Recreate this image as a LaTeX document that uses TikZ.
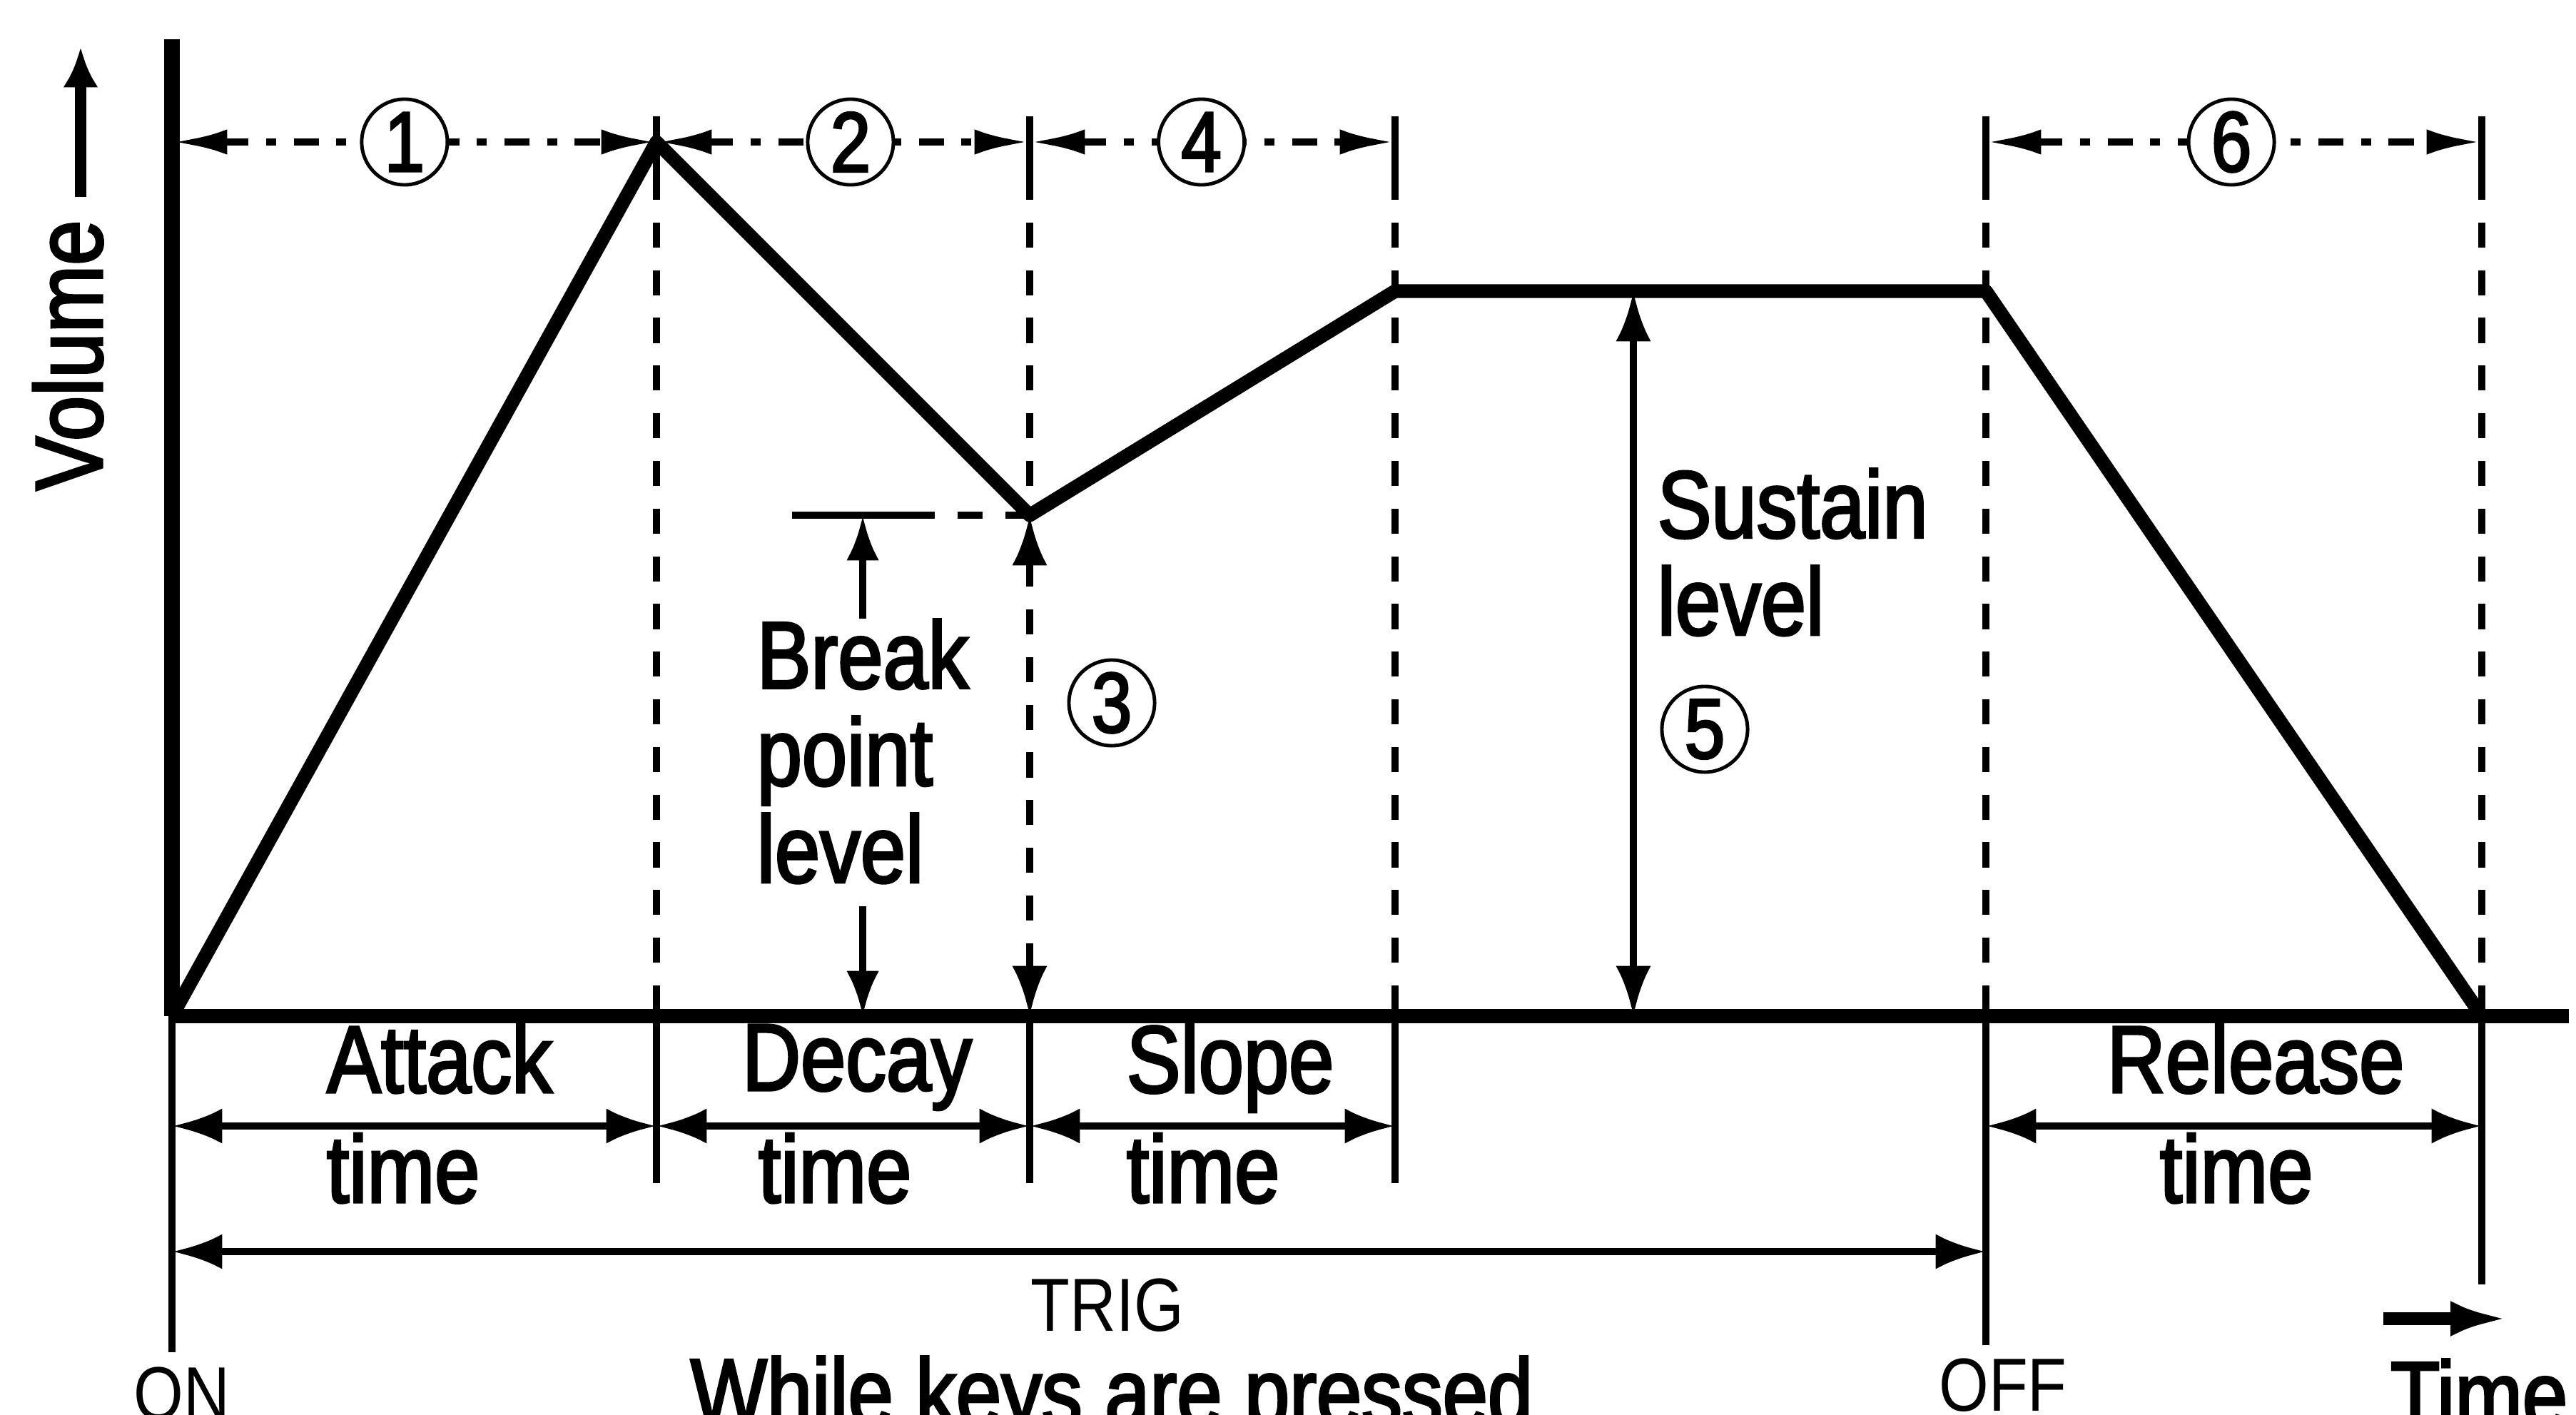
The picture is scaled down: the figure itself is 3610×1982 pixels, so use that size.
\documentclass[tikz,border=0pt]{standalone}
\usepackage{fontspec}
\setmainfont{Liberation Sans}[FakeStretch=0.85, FakeBold=2.5]
\newfontfamily\lightfont{Liberation Sans}[FakeStretch=0.85]
\usepackage{tikz}
\usetikzlibrary{arrows.meta, positioning}
\tikzset{
  envline/.style={line width=5.5pt, line join=round},
  thinline/.style={line width=3pt},
  guideline/.style={thinline, dash pattern=on 10pt off 9pt},
  topline/.style={thinline, dash pattern=on 10pt off 7pt on 4pt off 7pt},
  dimarrow/.style={thinline, {Latex[length=20pt,width=14pt]}-{Latex[length=20pt,width=14pt]}},
  topdim/.style={topline, {Latex[length=22pt,width=10pt]}-{Latex[length=22pt,width=10pt]}},
  levelarrow/.style={thinline, -{Latex[length=18pt,width=13pt]}},
  numcirc/.style={circle, draw, solid, line width=1.4pt, fill=white, minimum size=1.2cm,
    inner sep=0pt, font=\fontsize{34}{34}\selectfont},
  lbl/.style={font=\fontsize{38}{38.7}\selectfont, inner sep=0pt},
  smalllbl/.style={font=\lightfont\fontsize{30}{30}\selectfont, inner sep=0pt},
}

\begin{document}
\begin{tikzpicture}[x=0.01cm, y=-0.01cm, >={Latex[length=20pt,width=14pt]}]
  \useasboundingbox (0,0) rectangle (3610,1982);
  \fill[white] (0,0) rectangle (3610,1982);
  \coordinate (on) at (241,1424);
  \coordinate (pk) at (920,199);
  \coordinate (bp) at (1443,722);
  \coordinate (se) at (1955,408);
  \coordinate (rs) at (2783,408);
  \coordinate (rz) at (3478,1424);
  \coordinate (axtop) at (241,55);
  \coordinate (axbot) at (241,1895);
  \coordinate (tlend) at (3600,1424);

  % guides
  \foreach \gx/\gb in {920/1658, 1443/1658, 1955/1658, 2783/1885, 3478/1800}{
    \draw[thinline] (\gx,163) -- (\gx,245);
    \draw[thinline] (\gx,1424) -- (\gx,\gb);
  }
  \foreach \gx in {920, 1955, 2783, 3478}
    \draw[guideline] (\gx,245) -- (\gx,1424);
  \draw[guideline] (1443,245) -- (bp);
  \draw[guideline, <->] (bp) -- (bp |- on);

  \draw[topdim] (axtop |- pk) -- (pk) node[numcirc, pos=0.48] (n1) {1};
  \draw[topdim] (pk) -- (pk -| bp) node[numcirc, pos=0.52] (n2) {2};
  \draw[topdim] (pk -| bp) -- (pk -| se) node[numcirc, pos=0.47] (n4) {4};
  \draw[topdim] (pk -| rs) -- (pk -| rz) node[numcirc, pos=0.495] (n6) {6};

  % envelope
  \draw[line width=6pt] (axtop) -- (on);
  \draw[thinline] (on) -- (axbot);
  \draw[envline] (on) -- (tlend);
  \draw[envline] (on) -- (pk) -- (bp) -- (se) -- (rs) -- (rz);

  \node[lbl, rotate=90, anchor=base] (vol) at (143,498) {Volume};
  \draw[line width=4.8pt, -{Latex[length=16pt,width=14pt]}] (113,276) -- (113,66);

  % break point level
  \coordinate (bl) at (1110,722);
  \draw[thinline] (bl) -- ++(165,0) coordinate (bm);
  \draw[guideline] (bm) -- (bp);
  \node[lbl, anchor=north west, align=left] (brk) at (1060,867) {Break\\point\\level};
  \draw[levelarrow] (brk.north) -- (brk.north |- bl);
  \draw[levelarrow] ([yshift=-9pt]brk.south) -- (brk.south |- on);
  \node[numcirc] (n3) at (1558,985) {3};

  % sustain level
  \coordinate (sl) at (2289,408);
  \draw[dimarrow] (sl) -- (sl |- on);
  \node[lbl, anchor=north west, align=left] (sus) at (2322,656) {Sustain\\level};
  \node[numcirc] (n5) at (2389,1022) {5};

  % times
  \foreach \ra/\rb in {241/920, 920/1443, 1443/1955, 2783/3478}
    \draw[dimarrow] (\ra,1578) -- (\rb,1578);
  \draw[dimarrow] (241,1754) -- (2783,1754);
  \node[lbl, anchor=base] (attack) at (616,1531) {Attack};
  \node[lbl, anchor=base] (atime) at (565,1685) {time};
  \node[lbl, anchor=base] (decay) at (1201,1528) {Decay};
  \node[lbl, anchor=base] (dtime) at (1170,1685) {time};
  \node[lbl, anchor=base] (slope) at (1724,1531) {Slope};
  \node[lbl, anchor=base] (stime) at (1686,1685) {time};
  \node[lbl, anchor=base] (release) at (3161,1531) {Release};
  \node[lbl, anchor=base] (rtime) at (3134,1685) {time};
  \node[smalllbl, anchor=base] (trig) at (1552,1865) {TRIG};

  \node[smalllbl, anchor=north] (onlbl) at (255,1915) {ON};
  \node[lbl, anchor=north] (keys) at (1558,1900) {While keys are pressed};
  \node[smalllbl, anchor=north] (offlbl) at (2807,1903) {OFF};
  \node[lbl, anchor=north] (timelbl) at (3474,1904) {Time};
  \draw[line width=5pt, -{Latex[length=23pt,width=14pt]}] (3340,1848) -- (3515,1848);
\end{tikzpicture}
\end{document}
